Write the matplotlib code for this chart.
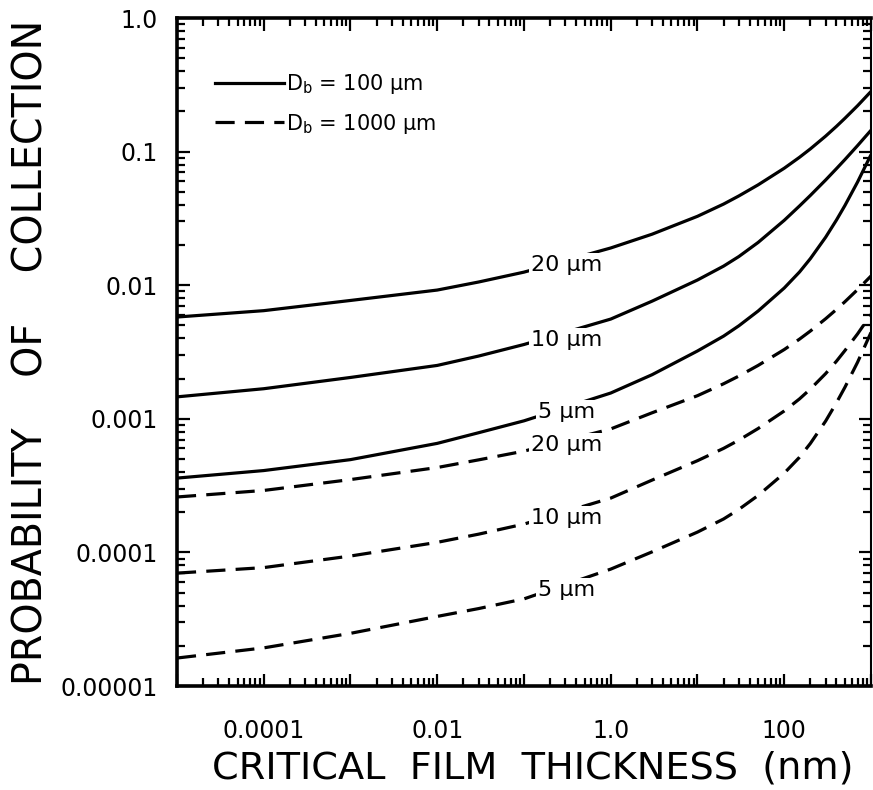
import numpy as np
import matplotlib
matplotlib.use("Agg")
import matplotlib.pyplot as plt
from matplotlib.ticker import LogLocator, FixedLocator, FixedFormatter, NullFormatter

# critical film thickness (nm) at which the curves were read
thickness = [1e-5, 1e-4, 1e-3, 1e-2, 0.03, 0.1, 1, 3, 10, 20, 30, 50,
             100, 150, 200, 300, 400, 500, 700, 1000]

# probability of collection, bubble diameter 100 um
p100_20 = [0.00578, 0.00645, 0.00769, 0.0092, 0.01057, 0.01253, 0.0190, 0.0241, 0.0328, 0.0405,
           0.0466, 0.0564, 0.0751, 0.0907, 0.1048, 0.1306, 0.1546, 0.1775, 0.2205, 0.282]
p100_10 = [0.00146, 0.00168, 0.00204, 0.00251, 0.00295, 0.0036, 0.00558, 0.0076, 0.01094, 0.0139,
           0.0164, 0.0209, 0.0306, 0.0392, 0.0470, 0.0613, 0.0746, 0.0871, 0.1109, 0.1445]
p100_5 = [3.6e-4, 4.1e-4, 4.95e-4, 6.55e-4, 7.87e-4, 9.66e-4, 1.56e-3, 2.14e-3, 3.22e-3, 4.16e-3,
          4.97e-3, 6.41e-3, 9.53e-3, 0.01256, 0.01581, 0.02286, 0.03076, 0.03945, 0.0592, 0.0948]

# probability of collection, bubble diameter 1000 um
p1000_20 = [2.6e-4, 2.91e-4, 3.51e-4, 4.32e-4, 4.93e-4, 5.73e-4, 8.4e-4, 1.11e-3, 1.49e-3, 1.83e-3,
            2.09e-3, 2.51e-3, 3.30e-3, 3.95e-3, 4.54e-3, 5.61e-3, 6.59e-3, 7.52e-3, 9.27e-3, 0.01172]
p1000_10 = [7.0e-5, 7.7e-5, 9.4e-5, 1.19e-4, 1.37e-4, 1.63e-4, 2.55e-4, 3.48e-4, 4.86e-4, 6.01e-4,
            6.93e-4, 8.46e-4, 1.145e-3, 1.41e-3, 1.67e-3, 2.18e-3, 2.70e-3, 3.24e-3, 4.32e-3, 6.04e-3]
p1000_5 = [1.62e-5, 1.93e-5, 2.48e-5, 3.32e-5, 3.8e-5, 4.49e-5, 7.5e-5, 1.01e-4, 1.42e-4, 1.78e-4,
           2.10e-4, 2.67e-4, 3.92e-4, 5.16e-4, 6.54e-4, 9.62e-4, 1.32e-3, 1.72e-3, 2.65e-3, 4.43e-3]

particle_labels = ["20 \u00b5m", "10 \u00b5m", "5 \u00b5m"]
label_x = 0.31
label_y_100 = [0.0142, 0.0039, 0.00112]
label_y_1000 = [6.4e-4, 1.81e-4, 5.2e-5]

ytick_vals = [1e-5, 1e-4, 1e-3, 1e-2, 0.1, 1.0]
ytick_text = ["0.00001", "0.0001", "0.001", "0.01", "0.1", "1.0"]
xtick_vals = [1e-4, 1e-2, 1.0, 100]
xtick_text = ["0.0001", "0.01", "1.0", "100"]

plt.rcParams["font.family"] = "DejaVu Sans"
plt.rcParams["mathtext.fontset"] = "dejavusans"

fig = plt.figure(figsize=(8.73, 7.90), dpi=100)
ax = fig.add_axes([0.2027, 0.1316, 0.7950, 0.8456])

lw = 2.3
for vals in (p100_20, p100_10, p100_5):
    ax.plot(thickness, vals, color="black", lw=lw, solid_capstyle="butt")
for vals in (p1000_20, p1000_10, p1000_5):
    ax.plot(thickness, vals, color="black", lw=lw, dashes=(6, 3.2), dash_capstyle="butt")

for txt, yv in zip(particle_labels, label_y_100):
    ax.text(label_x, yv, txt, ha="center", va="center", fontsize=16,
            bbox=dict(facecolor="white", edgecolor="none", pad=1.5))
for txt, yv in zip(particle_labels, label_y_1000):
    ax.text(label_x, yv, txt, ha="center", va="center", fontsize=16,
            bbox=dict(facecolor="white", edgecolor="none", pad=1.5))

# legend handles
ax.plot([], [], color="black", lw=lw, label="D$_\\mathregular{b}$ = 100 \u00b5m")
ax.plot([], [], color="black", lw=lw, dashes=(6, 3.2), label="D$_\\mathregular{b}$ = 1000 \u00b5m")
handles, labels = ax.get_legend_handles_labels()
ax.legend(handles[-2:], labels[-2:], loc="upper left", bbox_to_anchor=(0.055, 0.919),
          frameon=False, fontsize=15, handlelength=3.3, handletextpad=0.1,
          labelspacing=0.75, borderpad=0, borderaxespad=0)

ax.set_xscale("log")
ax.set_yscale("log")
ax.set_xlim(1e-5, 1e3)
ax.set_ylim(1e-5, 1.0)

ax.xaxis.set_major_locator(FixedLocator([10.0 ** k for k in range(-5, 4)]))
ax.xaxis.set_major_formatter(FixedFormatter(
    [xtick_text[xtick_vals.index(10.0 ** k)] if 10.0 ** k in xtick_vals else "" for k in range(-5, 4)]))
ax.xaxis.set_minor_locator(LogLocator(base=10, subs=range(2, 10), numticks=20))
ax.xaxis.set_minor_formatter(NullFormatter())
ax.yaxis.set_major_locator(FixedLocator(ytick_vals))
ax.yaxis.set_major_formatter(FixedFormatter(ytick_text))
ax.yaxis.set_minor_locator(LogLocator(base=10, subs=range(2, 10), numticks=20))
ax.yaxis.set_minor_formatter(NullFormatter())

ax.tick_params(which="both", direction="in", top=True, right=True, width=1.6, labelsize=17)
ax.tick_params(which="major", length=9)
ax.tick_params(which="minor", length=6)
ax.tick_params(axis="x", pad=24)
ax.tick_params(axis="y", pad=14)

for side in ("left", "bottom", "top"):
    ax.spines[side].set_linewidth(2.6)
ax.spines["right"].set_linewidth(1.5)

ax.set_xlabel("CRITICAL  FILM  THICKNESS  (nm)", fontsize=27.5, labelpad=5)
ax.xaxis.label.set_x(0.512)
ax.set_ylabel("PROBABILITY    OF    COLLECTION", fontsize=28.5, labelpad=6)

fig.savefig("out.png", dpi=100)
